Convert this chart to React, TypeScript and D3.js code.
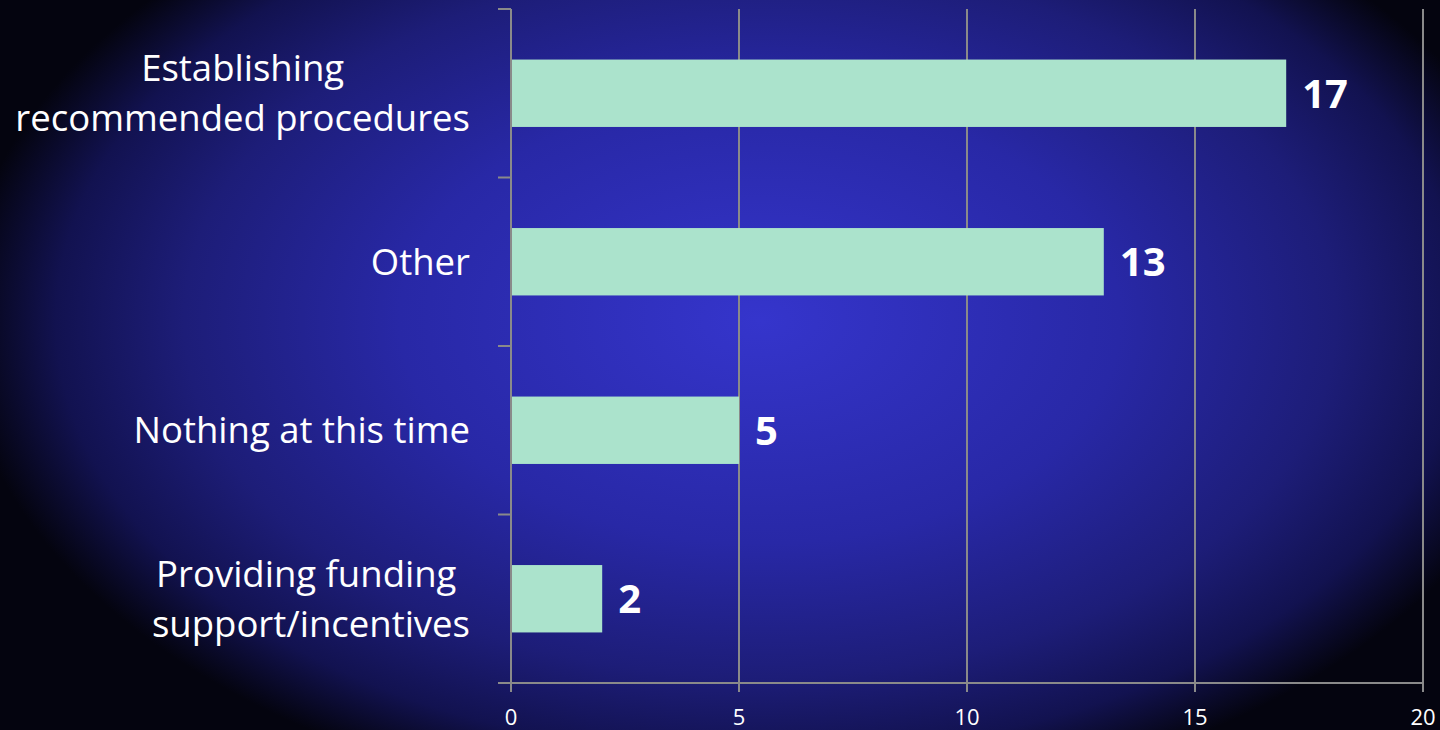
import React, { useEffect, useRef } from "react";
import * as d3 from "d3";

const categories = [
  "Establishing recommended procedures",
  "Other",
  "Nothing at this time",
  "Providing funding support/incentives",
];
const categoryLines = [
  ["Establishing", "recommended procedures"],
  ["Other"],
  ["Nothing at this time"],
  ["Providing funding ", "support/incentives"],
];
const values = [17, 13, 5, 2];
const xTicks = [0, 5, 10, 15, 20];

const W = 1440;
const H = 730;
const FONT = "'Open Sans', sans-serif";

export default function App() {
  const ref = useRef<SVGSVGElement | null>(null);

  useEffect(() => {
    const svg = d3.select(ref.current);
    svg.selectAll("*").remove();

    const defs = svg.append("defs");
    const cx = 760;
    const cy0 = 320;
    const grad = defs
      .append("radialGradient")
      .attr("id", "bg")
      .attr("gradientUnits", "userSpaceOnUse")
      .attr("cx", cx)
      .attr("cy", cy0)
      .attr("r", 800)
      .attr("gradientTransform", `translate(${cx},${cy0}) scale(1,0.62) translate(${-cx},${-cy0})`);
    grad.append("stop").attr("offset", "0%").attr("stop-color", "#3535cc");
    grad.append("stop").attr("offset", "45%").attr("stop-color", "#2828a6");
    grad.append("stop").attr("offset", "72%").attr("stop-color", "#1d1d78");
    grad.append("stop").attr("offset", "88%").attr("stop-color", "#121250");
    grad.append("stop").attr("offset", "100%").attr("stop-color", "#04040f");

    svg.append("rect").attr("width", W).attr("height", H).attr("fill", "url(#bg)");

    const x = d3.scaleLinear().domain([0, 20]).range([511, 1423]);
    const y = d3
      .scaleBand<string>()
      .domain(categories)
      .range([9, 683])
      .paddingInner(0.6)
      .paddingOuter(0.3);

    const grid = "#8a8a8a";
    svg
      .append("g")
      .selectAll("line")
      .data(xTicks.slice(1))
      .join("line")
      .attr("x1", (d) => x(d))
      .attr("x2", (d) => x(d))
      .attr("y1", 9)
      .attr("y2", 683)
      .attr("stroke", grid)
      .attr("stroke-width", 2);

    svg
      .append("g")
      .selectAll("rect")
      .data(values)
      .join("rect")
      .attr("x", x(0))
      .attr("y", (_, i) => y(categories[i])!)
      .attr("width", (d) => x(d) - x(0))
      .attr("height", y.bandwidth())
      .attr("fill", "#abe3cc");

    const step = y.step();
    const catBounds = [9, ...categories.map((_, i) => 9 + step * (i + 1))];
    svg
      .append("line")
      .attr("x1", 511)
      .attr("x2", 511)
      .attr("y1", 9)
      .attr("y2", 683)
      .attr("stroke", grid)
      .attr("stroke-width", 2);
    svg
      .append("g")
      .selectAll("line")
      .data(catBounds)
      .join("line")
      .attr("x1", 498)
      .attr("x2", 511)
      .attr("y1", (d) => d)
      .attr("y2", (d) => d)
      .attr("stroke", grid)
      .attr("stroke-width", 2);

    svg
      .append("line")
      .attr("x1", 498)
      .attr("x2", x(20))
      .attr("y1", 683)
      .attr("y2", 683)
      .attr("stroke", grid)
      .attr("stroke-width", 2);
    svg
      .append("g")
      .selectAll("line")
      .data(xTicks)
      .join("line")
      .attr("x1", (d) => x(d))
      .attr("x2", (d) => x(d))
      .attr("y1", 683)
      .attr("y2", 692)
      .attr("stroke", grid)
      .attr("stroke-width", 2);
    svg
      .append("g")
      .selectAll("text")
      .data(xTicks)
      .join("text")
      .attr("x", (d) => x(d))
      .attr("y", 725)
      .attr("text-anchor", "middle")
      .attr("fill", "#ffffff")
      .attr("font-family", FONT)
      .attr("font-size", 22)
      .text((d) => String(d));

    svg
      .append("g")
      .selectAll("text")
      .data(values)
      .join("text")
      .attr("x", (d) => x(d) + 16)
      .attr("y", (_, i) => y(categories[i])! + y.bandwidth() / 2)
      .attr("dy", "0.36em")
      .attr("fill", "#ffffff")
      .attr("font-family", FONT)
      .attr("font-weight", "bold")
      .attr("font-size", 40)
      .text((d) => String(d));

    const fs = 36.5;
    const lh = 50;
    categories.forEach((c, i) => {
      const lines = categoryLines[i];
      const cy = y(c)! + y.bandwidth() / 2;
      const g = svg.append("g");
      const texts = lines.map((ln, j) =>
        g
          .append("text")
          .attr("y", cy + (j - (lines.length - 1) / 2) * lh)
          .attr("dy", "0.36em")
          .attr("text-anchor", "middle")
          .attr("fill", "#ffffff")
          .attr("font-family", FONT)
          .attr("font-size", fs)
          .attr("xml:space", "preserve")
          .style("white-space", "pre")
          .text(ln)
      );
      const maxW = d3.max(texts, (t) => (t.node() as SVGTextElement).getComputedTextLength()) || 0;
      const center = 470 - maxW / 2;
      texts.forEach((t) => t.attr("x", center));
    });
  }, []);

  return (
    <svg
      ref={ref}
      width={W}
      height={H}
      style={{ position: "absolute", left: 0, top: 0, display: "block" }}
    />
  );
}
